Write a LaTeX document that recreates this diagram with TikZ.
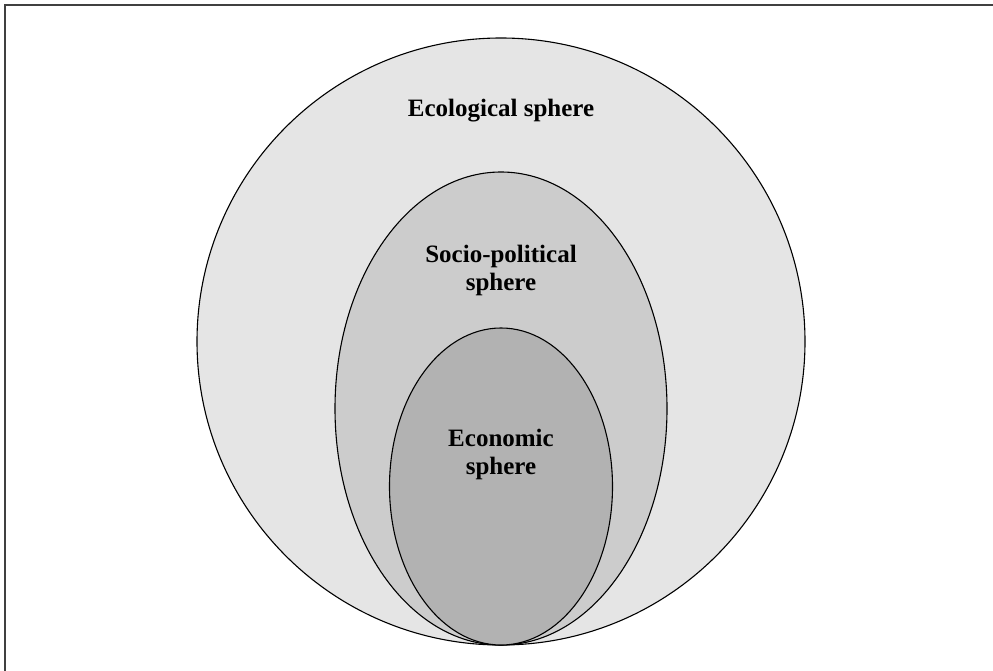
\documentclass[tikz,border=0pt]{standalone}
\usepackage{fontspec}
\setmainfont{Liberation Serif}
\usepackage{xcolor}
\usetikzlibrary{positioning}

\tikzset{
  sphere/.style={draw=black, line width=1.1pt},
  spherelabel/.style={font=\fontsize{25}{28}\selectfont\bfseries, align=center, inner sep=0pt}
}

\begin{document}
\begin{tikzpicture}[x=1pt, y=-1pt]
  \useasboundingbox (0,0) rectangle (993,671);

  % Frame (top and left edges)
  \draw[black!75, line width=1.6pt] (5,671) -- (5,5) -- (993,5);

  % Ecological sphere
  \draw[sphere, fill=black!10] (501,341.5) ellipse[x radius=304, y radius=303.5];
  \node[spherelabel] (eco) at (501,111) {Ecological sphere};

  % Socio-political sphere
  \draw[sphere, fill=black!20] (501,408.5) ellipse[x radius=166, y radius=236.5];
  \node[spherelabel] (soc) at (501,270) {Socio-political\\sphere};

  % Economic sphere
  \draw[sphere, fill=black!30] (501,486.5) ellipse[x radius=111.5, y radius=158.5];
  \node[spherelabel] (econ) at (501,454) {Economic\\sphere};
\end{tikzpicture}
\end{document}
